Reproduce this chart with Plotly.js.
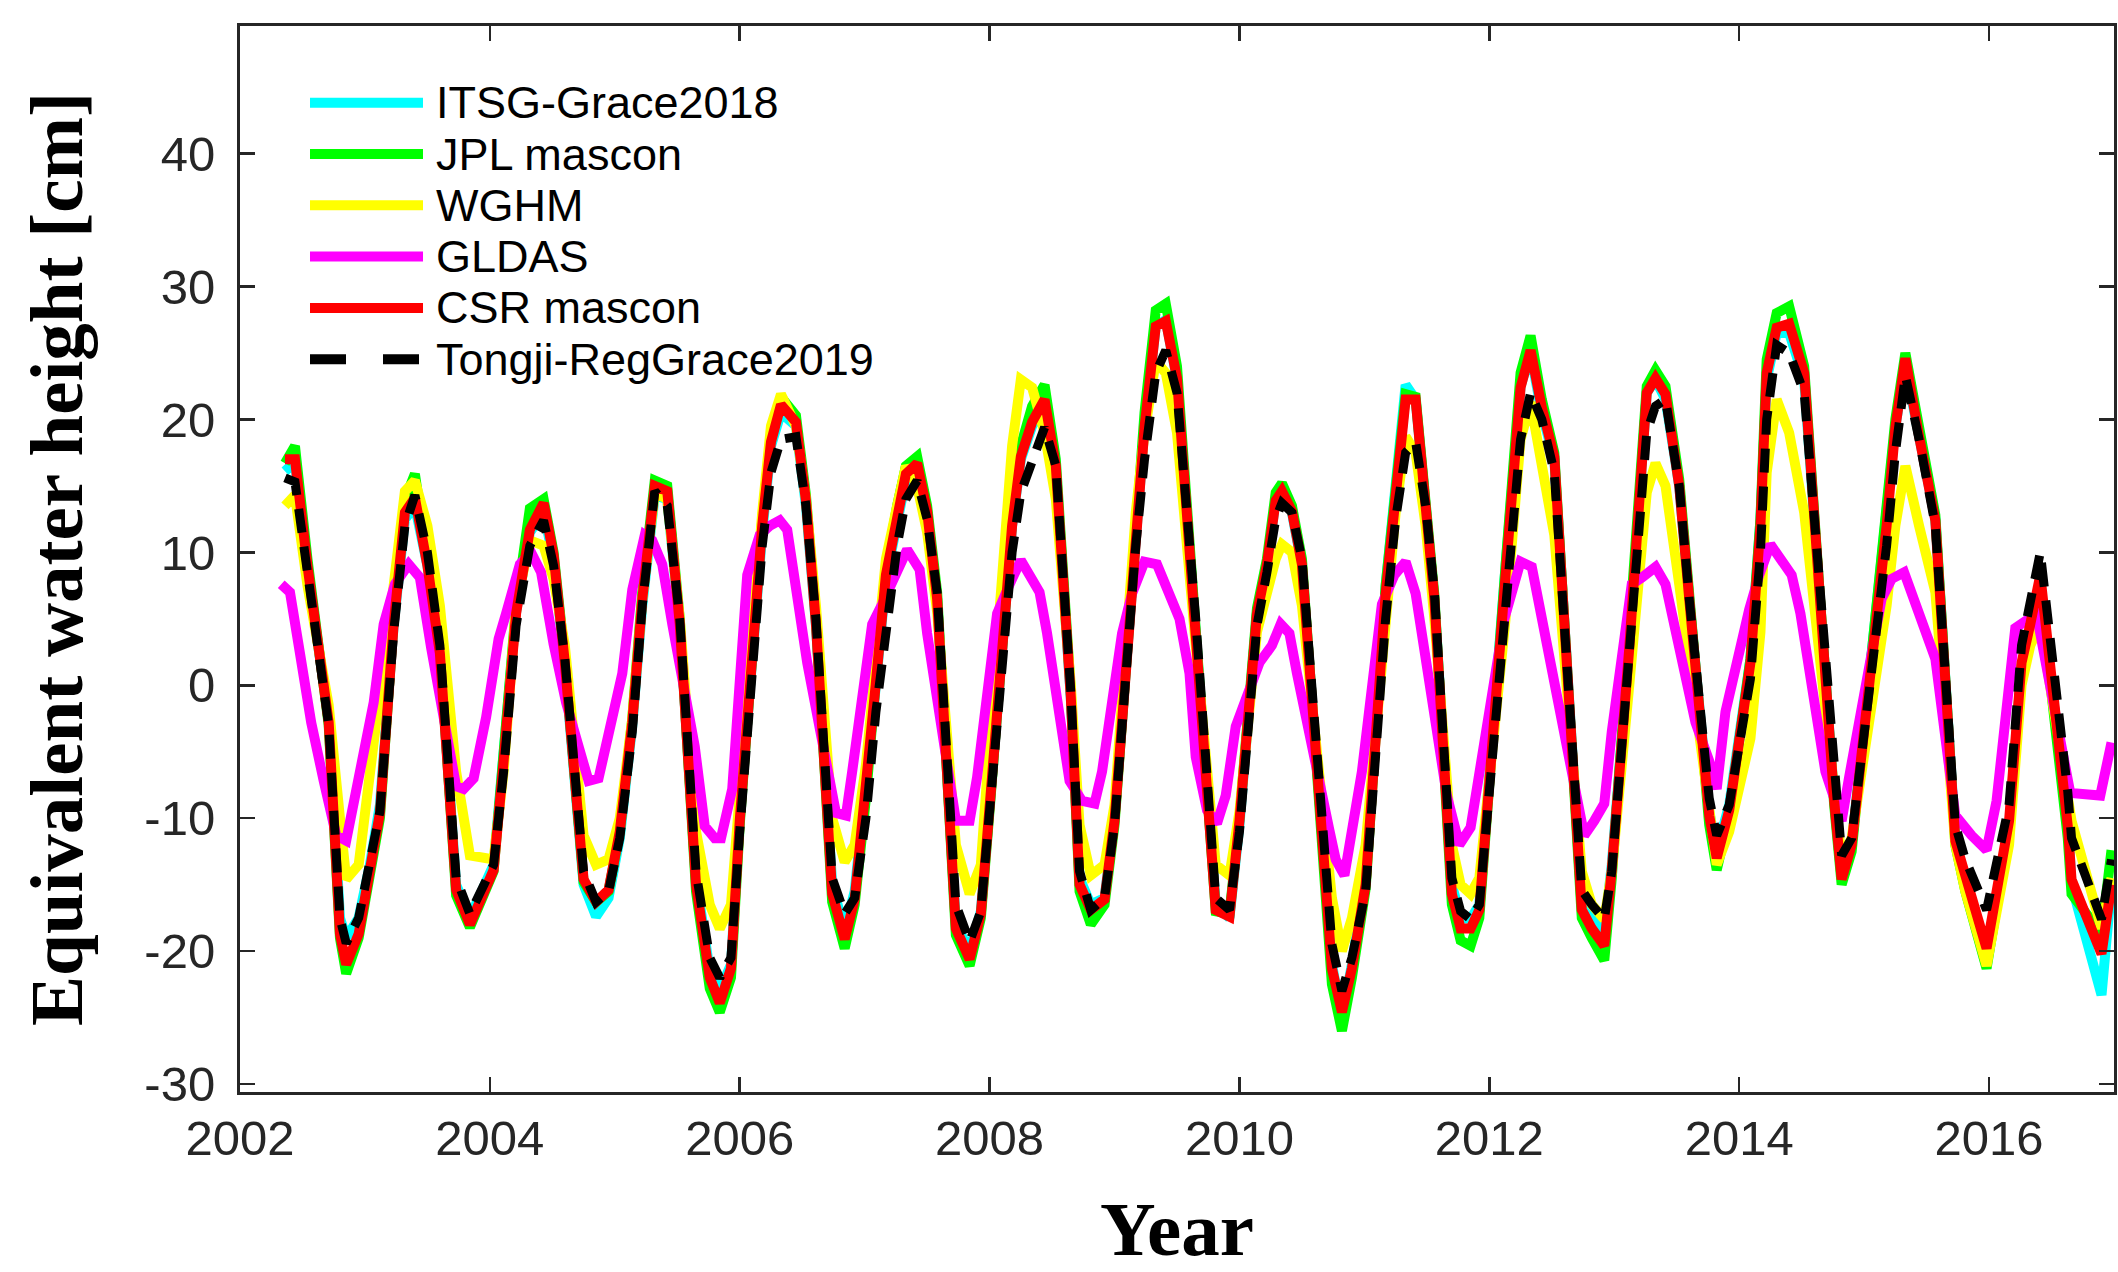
<!DOCTYPE html>
<html>
<head>
<meta charset="utf-8">
<script src="https://cdn.plot.ly/plotly-3.0.1.min.js"></script>
<style>html,body{margin:0;padding:0;background:#fff;}#chart{width:2118px;height:1272px;}</style>
</head>
<body>
<div id="chart"></div>
<script>
// ---- Data (decimal year, equivalent water height in cm) ----
const t = [2002.36,2002.44,2002.54,2002.71,2002.80,2002.85,2002.95,2003.04,2003.12,2003.23,
 2003.32,2003.40,2003.50,2003.60,2003.73,2003.84,2004.03,2004.11,2004.21,2004.32,
 2004.43,2004.51,2004.60,2004.75,2004.85,2004.95,2005.04,2005.14,2005.22,2005.32,
 2005.42,2005.52,2005.65,2005.76,2005.84,2005.93,2006.00,2006.18,2006.25,2006.33,
 2006.45,2006.53,2006.61,2006.74,2006.84,2006.92,2007.01,2007.09,2007.17,2007.26,
 2007.33,2007.42,2007.50,2007.58,2007.73,2007.84,2007.93,2008.01,2008.18,2008.25,
 2008.34,2008.44,2008.53,2008.65,2008.72,2008.81,2008.92,2009.00,2009.17,2009.24,
 2009.33,2009.41,2009.50,2009.65,2009.81,2009.92,2010.00,2010.14,2010.22,2010.29,
 2010.34,2010.42,2010.50,2010.74,2010.82,2010.90,2011.01,2011.17,2011.25,2011.33,
 2011.41,2011.49,2011.56,2011.70,2011.77,2011.85,2011.92,2012.13,2012.21,2012.25,
 2012.33,2012.42,2012.52,2012.74,2012.82,2012.92,2012.98,2013.12,2013.26,2013.33,
 2013.41,2013.52,2013.60,2013.76,2013.82,2013.92,2014.09,2014.17,2014.22,2014.30,
 2014.40,2014.52,2014.76,2014.82,2014.90,2015.12,2015.18,2015.25,2015.33,2015.44,
 2015.57,2015.73,2015.81,2015.98,2016.16,2016.26,2016.33,2016.41,2016.63,2016.66,
 2016.90,2016.98];

const itsg = [16.1,16.8,8.5,-2.5,-17.5,-19.0,-17.5,-13.5,-9.0,4.5,
 12.5,13.5,9.0,2.5,-15.0,-17.5,-13.5,-5.5,5.5,11.5,
 13.0,9.5,1.5,-15.0,-17.4,-16.0,-11.5,-3.0,6.0,14.3,
 14.0,4.5,-14.5,-21.5,-23.0,-21.0,-10.0,11.5,18.0,20.5,
 19.5,13.5,4.5,-15.0,-18.5,-15.5,-8.0,0.0,8.0,12.5,
 15.5,16.5,13.0,6.5,-18.0,-20.0,-17.0,-8.0,12.0,17.0,
 19.5,21.0,16.0,-1.0,-14.5,-16.5,-16.0,-10.0,12.0,19.5,
 27.0,27.5,23.0,4.5,-16.5,-17.5,-10.5,5.5,9.0,14.0,
 15.0,13.0,9.0,-21.0,-25.0,-21.0,-14.5,7.5,16.0,22.6,
 21.5,13.5,6.5,-15.0,-17.5,-17.6,-16.5,9.0,18.0,22.5,
 25.0,20.5,17.0,-16.5,-17.5,-18.5,-13.5,3.0,22.0,23.0,
 21.5,15.0,6.5,-9.5,-12.5,-9.0,2.0,12.5,23.0,26.5,
 26.5,23.0,-8.5,-14.0,-12.0,7.0,12.5,19.5,24.0,18.5,
 12.5,-11.5,-15.0,-20.5,-11.0,0.5,4.0,6.5,-10.0,-15.0,
 -23.3,-15.0];

const jpl = [16.7,18.0,9.5,-3.0,-19.0,-21.7,-19.0,-14.5,-10.0,5.0,
 14.0,15.9,10.0,3.0,-15.8,-18.2,-14.0,-5.5,6.0,13.3,
 14.0,10.0,2.0,-14.8,-16.3,-15.5,-11.0,-2.5,7.0,15.4,
 15.0,5.0,-15.5,-22.8,-24.6,-22.0,-10.5,12.5,18.8,21.7,
 20.3,14.3,5.0,-16.3,-19.8,-16.5,-8.5,0.5,8.8,13.5,
 16.5,17.2,13.5,7.0,-18.8,-21.1,-17.5,-8.2,12.5,18.0,
 21.0,22.6,17.0,-0.5,-15.5,-18.0,-16.5,-10.5,12.5,20.5,
 28.2,28.7,24.0,5.0,-17.0,-17.2,-10.0,5.8,9.5,14.5,
 15.2,13.5,9.5,-22.5,-26.0,-22.0,-15.3,7.5,15.5,21.9,
 21.7,14.2,6.8,-16.5,-19.2,-19.6,-17.5,9.0,18.5,23.5,
 26.3,21.5,17.5,-17.5,-19.0,-20.7,-14.5,3.0,22.5,23.7,
 22.5,15.5,7.0,-10.5,-13.9,-9.8,2.0,12.5,24.5,28.0,
 28.5,24.0,-9.0,-15.0,-12.5,7.0,12.5,20.0,25.0,19.0,
 12.8,-12.0,-15.5,-21.3,-11.0,1.5,4.0,6.9,-11.5,-15.7,
 -18.7,-12.4];

const wghm = [13.5,14.3,7.5,-1.5,-10.0,-14.6,-13.5,-6.0,-0.5,7.5,
 14.6,15.4,12.0,6.0,-6.5,-12.8,-13.1,-6.5,6.0,10.9,
 10.5,8.0,3.0,-11.3,-13.5,-13.1,-10.0,-2.5,6.5,14.5,
 14.0,5.0,-11.0,-16.5,-18.3,-16.5,-8.0,13.0,19.5,21.9,
 19.5,14.0,6.0,-10.0,-13.3,-12.0,-6.0,2.0,9.5,13.5,
 16.5,15.0,11.5,5.5,-12.0,-15.7,-13.5,-3.0,18.0,23.0,
 22.4,19.0,14.0,0.0,-10.5,-14.3,-13.5,-9.0,13.0,19.0,
 24.4,23.5,19.0,3.0,-13.5,-14.3,-9.5,4.0,7.0,9.5,
 10.6,10.0,6.0,-16.0,-20.0,-17.5,-12.0,6.0,13.0,18.7,
 17.5,12.0,5.0,-12.0,-15.0,-15.7,-14.5,5.0,14.0,18.5,
 21.3,16.5,11.3,-14.0,-16.5,-17.6,-14.0,0.0,14.5,16.7,
 15.0,7.6,2.0,-10.0,-13.5,-11.0,-4.0,4.0,16.0,21.5,
 19.0,13.0,-8.0,-13.1,-11.5,2.0,6.0,12.0,16.5,12.0,
 7.0,-12.0,-15.5,-21.1,-12.0,0.0,3.0,4.6,-8.5,-10.2,
 -18.3,-14.5];

const csr = [17.0,17.0,9.0,-2.8,-18.7,-21.0,-18.7,-14.0,-9.6,4.6,
 13.0,14.1,9.0,2.4,-15.4,-18.0,-13.9,-5.7,5.4,11.7,
 13.7,9.8,1.7,-14.6,-16.3,-15.4,-11.0,-2.8,6.5,15.0,
 14.6,4.6,-15.0,-22.0,-23.9,-21.3,-10.2,12.0,18.3,21.1,
 19.8,13.9,4.6,-15.7,-19.1,-16.1,-8.3,0.2,8.3,12.8,
 15.9,16.7,13.1,6.5,-18.3,-20.6,-17.2,-8.0,12.0,17.2,
 19.8,21.5,16.5,-0.9,-15.0,-16.9,-16.1,-10.2,12.0,19.4,
 27.0,27.4,23.1,4.6,-16.9,-17.4,-10.2,5.4,9.1,13.9,
 14.6,13.1,9.1,-21.3,-24.6,-21.3,-15.0,6.9,15.0,21.5,
 21.5,13.9,6.5,-15.7,-18.3,-18.3,-16.9,8.3,17.6,22.4,
 25.2,20.9,17.2,-16.9,-18.3,-19.6,-13.9,2.8,22.0,23.1,
 21.9,15.0,6.5,-9.8,-13.0,-9.4,1.7,12.0,23.5,26.9,
 27.2,23.5,-8.7,-14.6,-12.0,6.5,12.0,19.4,24.6,18.7,
 12.4,-11.7,-14.5,-19.8,-10.2,1.7,4.6,8.3,-10.6,-14.6,
 -20.2,-15.0];

const tongji = [15.6,15.3,8.5,-3.0,-17.5,-19.4,-17.5,-13.5,-9.5,4.0,
 12.0,14.3,10.0,3.0,-14.5,-17.2,-13.5,-6.5,4.5,10.5,
 12.4,9.0,2.0,-14.0,-16.3,-15.5,-11.5,-3.5,6.0,14.6,
 13.5,5.0,-14.0,-20.5,-22.0,-20.5,-11.0,10.5,16.0,18.5,
 18.7,13.5,5.0,-14.5,-17.2,-16.0,-10.0,-2.0,4.0,10.5,
 14.0,15.4,12.5,7.0,-16.5,-19.3,-17.0,-8.5,10.0,14.5,
 17.0,19.4,16.5,-0.5,-14.0,-16.9,-16.0,-10.5,10.5,17.0,
 23.5,25.2,22.0,5.0,-16.0,-16.9,-11.0,4.5,8.5,12.5,
 13.7,13.0,9.5,-19.5,-23.0,-20.5,-15.5,5.0,12.5,17.5,
 18.3,13.5,7.0,-14.5,-17.0,-17.6,-16.5,5.0,14.0,18.5,
 22.0,20.0,16.0,-15.4,-16.5,-17.6,-14.0,1.5,19.0,21.0,
 21.5,15.0,6.5,-8.5,-11.3,-9.0,0.5,10.0,20.0,25.6,
 25.0,22.0,-7.5,-12.8,-11.5,5.5,10.5,17.5,23.3,18.5,
 12.0,-10.5,-13.1,-16.9,-9.0,3.0,6.0,10.0,-8.0,-11.5,
 -17.6,-13.1];

const gldasT = [2002.33,2002.40,2002.48,2002.57,2002.67,2002.77,2002.85,2002.92,2003.07,2003.15,
 2003.24,2003.35,2003.44,2003.53,2003.63,2003.73,2003.79,2003.87,2003.97,2004.07,
 2004.13,2004.24,2004.33,2004.41,2004.51,2004.61,2004.71,2004.79,2004.87,2004.96,
 2005.06,2005.14,2005.24,2005.30,2005.38,2005.46,2005.64,2005.72,2005.80,2005.85,
 2005.94,2006.06,2006.16,2006.24,2006.32,2006.38,2006.46,2006.54,2006.77,2006.85,
 2006.90,2007.06,2007.14,2007.25,2007.34,2007.44,2007.50,2007.73,2007.84,2007.90,
 2008.06,2008.16,2008.25,2008.40,2008.46,2008.64,2008.74,2008.84,2008.90,2009.06,
 2009.14,2009.24,2009.34,2009.52,2009.60,2009.65,2009.74,2009.82,2009.89,2009.97,
 2010.16,2010.26,2010.33,2010.40,2010.46,2010.72,2010.77,2010.84,2010.90,2010.98,
 2011.14,2011.24,2011.33,2011.41,2011.57,2011.66,2011.76,2011.85,2012.12,2012.18,
 2012.25,2012.34,2012.54,2012.76,2012.84,2012.92,2012.98,2013.14,2013.22,2013.33,
 2013.41,2013.65,2013.76,2013.82,2013.89,2013.98,2014.08,2014.16,2014.25,2014.42,
 2014.49,2014.69,2014.82,2014.88,2015.14,2015.22,2015.32,2015.57,2015.73,2015.86,
 2015.98,2016.06,2016.21,2016.38,2016.65,2016.89,2016.98];

const gldas = [7.6,7.0,2.4,-2.8,-7.2,-11.3,-11.7,-8.3,-1.3,4.6,
 7.6,9.1,8.1,2.8,-2.8,-7.6,-7.8,-7.0,-2.4,3.5,
 5.4,9.1,10.0,8.5,3.1,-1.3,-4.6,-7.2,-7.0,-3.5,
 0.9,7.2,11.3,10.9,9.1,4.6,-4.6,-10.6,-11.5,-11.5,
 -7.8,8.3,11.3,12.0,12.4,11.7,6.9,1.7,-9.6,-9.8,
 -6.5,4.6,6.1,8.3,10.2,8.7,3.9,-10.2,-10.2,-6.9,
 5.4,7.6,9.4,7.0,3.9,-7.2,-8.7,-8.9,-6.5,3.9,
 6.9,9.3,9.1,5.0,0.9,-5.4,-9.4,-10.4,-8.3,-3.1,
 1.7,3.0,4.6,3.9,0.9,-10.9,-13.1,-14.3,-10.6,-6.5,
 6.1,8.3,9.3,6.9,-2.8,-8.3,-12.0,-10.7,5.0,7.2,
 9.3,8.9,-0.6,-11.3,-10.2,-8.9,-3.5,7.6,8.1,8.9,
 7.6,-2.8,-5.7,-7.8,-2.0,2.0,5.7,8.3,10.6,8.3,
 5.4,-6.5,-10.2,-6.9,6.5,8.0,8.5,2.0,-9.8,-11.3,
 -12.4,-8.7,4.3,5.4,-8.1,-8.3,-4.3];

const seriesNames = ['ITSG-Grace2018','JPL mascon','WGHM','GLDAS','CSR mascon','Tongji-RegGrace2019'];
const seriesColors = ['#00FFFF','#00FF00','#FFFF00','#FF00FF','#FF0000','#000000'];
const xTickVals = [2002,2004,2006,2008,2010,2012,2014,2016];
const yTickVals = [-30,-20,-10,0,10,20,30,40];

// ---- Traces ----
const xs = [t, t, t, gldasT, t, t];
const ys = [itsg, jpl, wghm, gldas, csr, tongji];
const traces = seriesNames.map((name, i) => ({
  type: 'scatter', mode: 'lines', name: name,
  x: xs[i], y: ys[i],
  line: {color: seriesColors[i], width: i === 5 ? 9 : 10,
         dash: i === 5 ? '24px,14px' : 'solid'},
  showlegend: false, hoverinfo: 'skip'
}));

// ---- Custom legend (long line samples as in the original) ----
const PLOT_L = 240, PLOT_W = 1874, PLOT_T = 26, PLOT_H = 1066;
const px2x = p => (p - PLOT_L) / PLOT_W;
const px2y = p => 1 - (p - PLOT_T) / PLOT_H;
const legRow0 = 102.7, legStep = 51.3;
const shapes = [], annotations = [];
seriesNames.forEach((name, i) => {
  const yy = px2y(legRow0 + i * legStep);
  shapes.push({type: 'line', xref: 'paper', yref: 'paper',
    x0: px2x(310), x1: px2x(i === 5 ? 419 : 423), y0: yy, y1: yy,
    line: {color: seriesColors[i], width: 10, dash: i === 5 ? '36px,37px' : 'solid'}});
  annotations.push({xref: 'paper', yref: 'paper', x: px2x(434), y: yy,
    xanchor: 'left', yanchor: 'middle', showarrow: false, text: name,
    font: {family: 'Liberation Sans, Arial, sans-serif', size: 45, color: '#000000'}});
});

const axisCommon = {
  showline: true, linecolor: '#262626', linewidth: 3, mirror: 'ticks',
  ticks: 'inside', ticklen: 15, tickwidth: 2.5, tickcolor: '#262626',
  showgrid: false, zeroline: false,
  tickfont: {family: 'Liberation Sans, Arial, sans-serif', size: 49, color: '#262626'}
};

const layout = {
  width: 2118, height: 1272,
  margin: {l: PLOT_L, r: 4, t: PLOT_T, b: 180},
  paper_bgcolor: '#ffffff', plot_bgcolor: '#ffffff',
  showlegend: false,
  xaxis: Object.assign({}, axisCommon, {
    range: [2002, 2017], tickmode: 'array', tickvals: xTickVals,
    ticktext: xTickVals.map(String), ticklabelstandoff: 1,
    title: {text: 'Year', standoff: 66,
      font: {family: 'Liberation Serif, Times New Roman, serif', size: 77, color: '#000000', weight: 'bold'}}
  }),
  yaxis: Object.assign({}, axisCommon, {
    range: [-30.6, 49.6], tickmode: 'array', tickvals: yTickVals,
    ticktext: yTickVals.map(String), ticklabelstandoff: 12,
    title: {text: 'Equivalent water height [cm]', standoff: 38,
      font: {family: 'Liberation Serif, Times New Roman, serif', size: 75, color: '#000000', weight: 'bold'}}
  }),
  shapes: shapes,
  annotations: annotations
};

Plotly.newPlot('chart', traces, layout, {displayModeBar: false, staticPlot: true});
</script>
</body>
</html>
